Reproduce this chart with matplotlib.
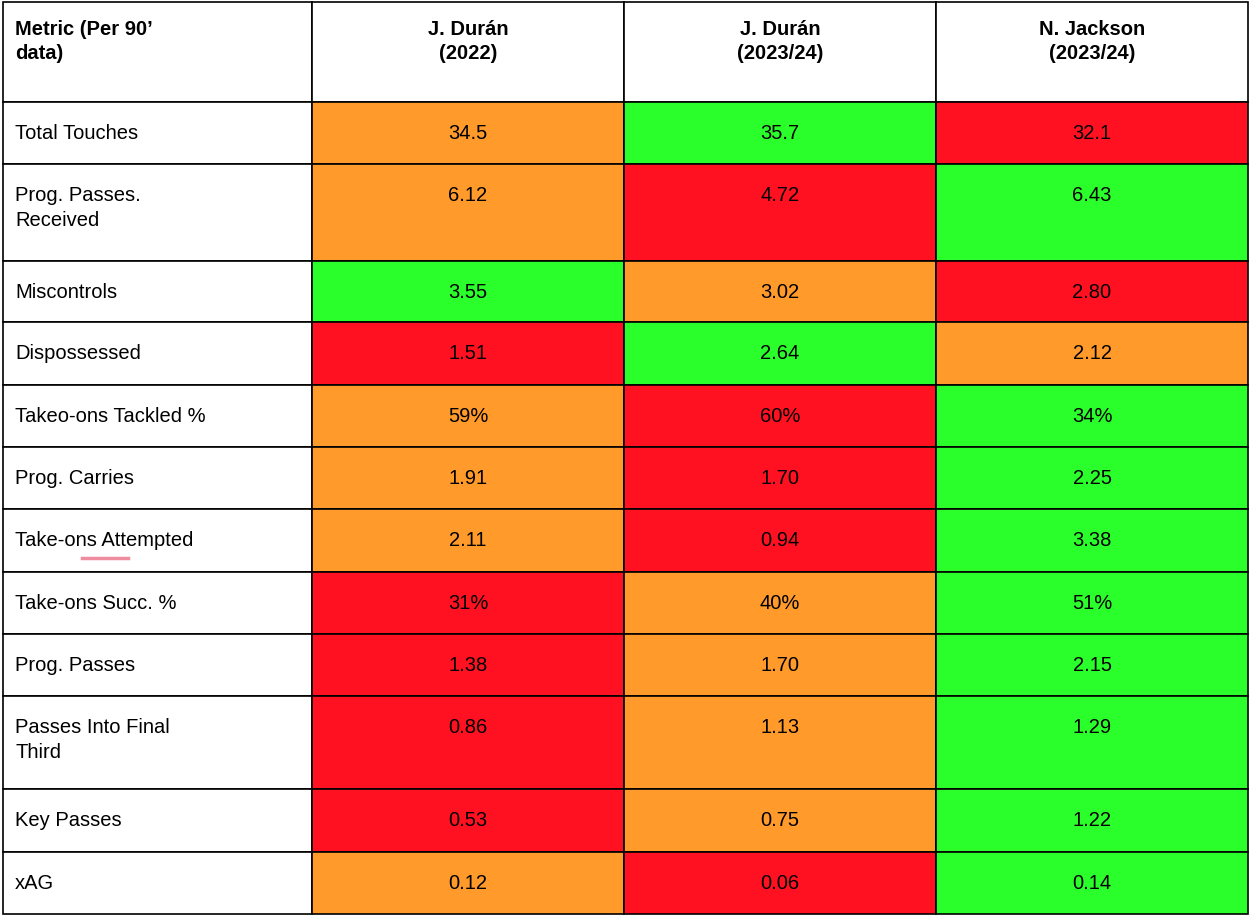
import matplotlib
matplotlib.use("Agg")
import matplotlib.pyplot as plt
from matplotlib.patches import Rectangle

headers = ["Metric (Per 90’\ndata)", "J. Durán\n(2022)", "J. Durán\n(2023/24)", "N. Jackson\n(2023/24)"]
metrics = ["Total Touches", "Prog. Passes.\nReceived", "Miscontrols", "Dispossessed",
           "Takeo-ons Tackled %", "Prog. Carries", "Take-ons Attempted", "Take-ons Succ. %",
           "Prog. Passes", "Passes Into Final\nThird", "Key Passes", "xAG"]
values = [["34.5", "35.7", "32.1"], ["6.12", "4.72", "6.43"], ["3.55", "3.02", "2.80"],
          ["1.51", "2.64", "2.12"], ["59%", "60%", "34%"], ["1.91", "1.70", "2.25"],
          ["2.11", "0.94", "3.38"], ["31%", "40%", "51%"], ["1.38", "1.70", "2.15"],
          ["0.86", "1.13", "1.29"], ["0.53", "0.75", "1.22"], ["0.12", "0.06", "0.14"]]
ranks = [["O", "G", "R"], ["O", "R", "G"], ["G", "O", "R"], ["R", "G", "O"],
         ["O", "R", "G"], ["O", "R", "G"], ["O", "R", "G"], ["R", "O", "G"],
         ["R", "O", "G"], ["R", "O", "G"], ["R", "O", "G"], ["O", "R", "G"]]
palette = {"O": "#FF9A2B", "G": "#2BFF2B", "R": "#FF1121"}

col_x = [3, 312, 624, 936, 1248]
row_y = [3, 103, 165, 262, 323, 386, 448, 510, 573, 635, 697, 790, 853, 915]

fig = plt.figure(figsize=(12.5, 9.2), dpi=100)
ax = fig.add_axes([0, 0, 1, 1])
ax.set_xlim(0, 1250)
ax.set_ylim(920, 0)
ax.axis("off")
plt.rcParams['font.family'] = ['Liberation Sans', 'DejaVu Sans']
fs = 14.5

def cell(c, r, color):
    ax.add_patch(Rectangle((col_x[c], row_y[r]), col_x[c+1]-col_x[c], row_y[r+1]-row_y[r],
                           facecolor=color, edgecolor="black", linewidth=1.2))

for c, h in enumerate(headers):
    cell(c, 0, "white")
    if c == 0:
        ax.text(15, 20, h, ha="left", va="top", fontsize=fs, fontweight="bold", linespacing=1.35)
    else:
        ax.text((col_x[c]+col_x[c+1])/2, 20, h, ha="center", va="top", fontsize=fs,
                fontweight="bold", linespacing=1.35, multialignment="center")

for i, m in enumerate(metrics):
    r = i + 1
    cell(0, r, "white")
    ax.text(15, row_y[r]+21, m, ha="left", va="top", fontsize=fs, linespacing=1.4)
    for j in range(3):
        cell(j+1, r, palette[ranks[i][j]])
        ax.text((col_x[j+1]+col_x[j+2])/2, row_y[r]+21, values[i][j], ha="center", va="top", fontsize=fs)

ax.plot([82, 128], [559, 559], color="#F08CA0", linewidth=2.5)

fig.savefig("out.png", dpi=100)
